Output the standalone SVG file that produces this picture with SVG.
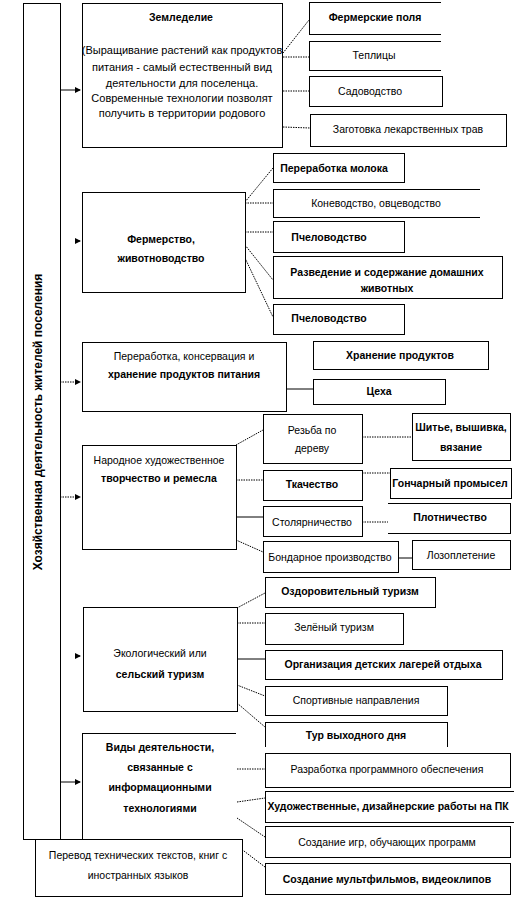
<svg xmlns="http://www.w3.org/2000/svg" width="514" height="899" viewBox="0 0 514 899">
<defs>
<marker id="arr" markerWidth="6" markerHeight="6" refX="5" refY="3" orient="auto" markerUnits="userSpaceOnUse"><path d="M0,0 L6,3 L0,6 z" fill="#000"/></marker>
<style>
.b{fill:#fff;stroke:#000;stroke-width:1;shape-rendering:crispEdges}
.o{fill:none;stroke:#000;stroke-width:1;shape-rendering:crispEdges}
text{font-family:"Liberation Sans",Arial,sans-serif;font-size:10.5px;fill:#000;text-anchor:middle;dominant-baseline:central}
.bd{font-weight:bold}
.c{stroke:#000;stroke-width:1;fill:none}
.d{stroke-dasharray:1.5 1}
.z{font-size:11px}
</style>
</defs>
<rect width="514" height="899" fill="#fff"/>

<g id="connectors">
<path class="c" d="M60,90 H80" marker-end="url(#arr)"/>
<path class="c" d="M76,241 H80" marker-end="url(#arr)"/>
<path class="c d" d="M60,382 H80" marker-end="url(#arr)"/>
<path class="c d" d="M60,497 H80" marker-end="url(#arr)"/>
<path class="c" d="M76,656 H80" marker-end="url(#arr)"/>
<path class="c" d="M60,782 H80" marker-end="url(#arr)"/>

<path class="c d" d="M283,53 L309,20"/>
<path class="c d" d="M283,57 H309"/>
<path class="c d" d="M283,91 H309"/>
<path class="c d" d="M283,127 L310,128"/>

<path class="c d" d="M245,202 L273,168"/>
<path class="c d" d="M245,203 H273"/>
<path class="c d" d="M245,232 H273"/>
<path class="c d" d="M245,245 L273,280"/>
<path class="c d" d="M245,258 L273,317"/>

<path class="c" d="M286,389 H313"/>

<path class="c d" d="M236,445 L263,430"/>
<path class="c d" d="M236,480 H263"/>
<path class="c" d="M236,517 H263"/>
<path class="c d" d="M236,540 L263,552"/>
<path class="c d" d="M362,437 H412"/>
<path class="c d" d="M362,473 H390"/>
<path class="c d" d="M362,522 H388"/>
<path class="c" d="M398,558 H412"/>

<path class="c d" d="M237,608 L265,593"/>
<path class="c d" d="M237,623 H265"/>
<path class="c" d="M237,659 H265"/>
<path class="c d" d="M237,685 L265,696"/>
<path class="c d" d="M237,703 L265,727"/>

<path class="c d" d="M237,769 H265"/>
<path class="c d" d="M237,802 L265,798"/>
<path class="c d" d="M237,818 L265,837"/>
<path class="c d" d="M240,848 L265,867"/>
<path class="c" d="M155,839 V851"/>
</g>

<g id="main">
<rect class="b" x="23" y="3" width="37" height="836"/>
<text class="bd" style="font-size:12px" transform="translate(38,422) rotate(-90)">Хозяйственная  деятельность жителей поселения</text>
</g>

<g id="zemledelie">
<rect class="b" x="82" y="3" width="200" height="144"/>
<text class="bd" x="181" y="17">Земледелие</text>
<text class="z" x="182" y="50">(Выращивание растений как продуктов</text>
<text class="z" x="182" y="67">питания - самый естественный вид</text>
<text class="z" x="182" y="83">деятельности для поселенца.</text>
<text class="z" x="182" y="98">Современные технологии позволят</text>
<text class="z" x="182" y="113">получить в территории родового</text>
</g>
<g id="fermerskie-polya">
<path class="o" d="M441,2 H309 V34 H441"/>
<text class="bd" x="375" y="17">Фермерские поля</text>
</g>
<g id="teplitsy">
<path class="o" d="M441,41 H309 V70 H441"/>
<text x="374" y="55">Теплицы</text>
</g>
<g id="sadovodstvo">
<rect class="b" x="309" y="76" width="133" height="30"/>
<text x="370" y="91">Садоводство</text>
</g>
<g id="zagotovka">
<rect class="b" x="310" y="114" width="196" height="32"/>
<text x="408" y="129">Заготовка лекарственных трав</text>
</g>

<g id="fermerstvo">
<rect class="b" x="82" y="192" width="163" height="100"/>
<text class="bd" x="161" y="239">Фермерство,</text>
<text class="bd" x="161" y="258">животноводство</text>
</g>
<g id="pererabotka-moloka">
<rect class="b" x="273" y="153" width="131" height="29"/>
<text class="bd" x="334" y="168">Переработка молока</text>
</g>
<g id="konevodstvo">
<path class="o" d="M480,189 H273 V217 H480"/>
<text x="376" y="203">Коневодство, овцеводство</text>
</g>
<g id="pchelovodstvo-1">
<rect class="b" x="273" y="221" width="131" height="31"/>
<text class="bd" x="329" y="237">Пчеловодство</text>
</g>
<g id="razvedenie">
<rect class="b" x="273" y="256" width="229" height="42"/>
<text class="bd" x="387" y="272">Разведение и содержание домашних</text>
<text class="bd" x="387" y="288">животных</text>
</g>
<g id="pchelovodstvo-2">
<rect class="b" x="273" y="304" width="131" height="30"/>
<text class="bd" x="329" y="318">Пчеловодство</text>
</g>

<g id="pererabotka">
<rect class="b" x="82" y="342" width="204" height="69"/>
<text x="184" y="356">Переработка, консервация и</text>
<text class="bd" x="184" y="374">хранение продуктов питания</text>
</g>
<g id="khranenie">
<rect class="b" x="313" y="341" width="175" height="28"/>
<text class="bd" x="400" y="355">Хранение продуктов</text>
</g>
<g id="tsekha">
<rect class="b" x="313" y="379" width="132" height="25"/>
<text class="bd" x="379" y="391">Цеха</text>
</g>

<g id="narodnoe">
<rect class="b" x="82" y="445" width="154" height="104"/>
<text x="159" y="460">Народное художественное</text>
<text class="bd" x="159" y="478">творчество и ремесла</text>
</g>
<g id="rezba">
<rect class="b" x="263" y="414" width="99" height="49"/>
<text x="312" y="430">Резьба по</text>
<text x="312" y="448">дереву</text>
</g>
<g id="shitye">
<rect class="b" x="412" y="413" width="98" height="47"/>
<text class="bd" x="461" y="427">Шитье, вышивка,</text>
<text class="bd" x="461" y="447">вязание</text>
</g>
<g id="tkachestvo">
<rect class="b" x="263" y="470" width="99" height="30"/>
<text class="bd" x="312" y="484">Ткачество</text>
</g>
<g id="goncharny">
<rect class="b" x="390" y="468" width="121" height="30"/>
<text class="bd" x="450" y="483">Гончарный промысел</text>
</g>
<g id="stolyarnichestvo">
<rect class="b" x="263" y="506" width="99" height="30"/>
<text x="312" y="522">Столярничество</text>
</g>
<g id="plotnichestvo">
<path class="o" d="M388,503 H510 V533 H388"/>
<text class="bd" x="450" y="517">Плотничество</text>
</g>
<g id="bondarnoe">
<rect class="b" x="263" y="541" width="135" height="31"/>
<text x="330" y="557">Бондарное производство</text>
</g>
<g id="lozopletenie">
<rect class="b" x="412" y="540" width="98" height="29"/>
<text x="461" y="555">Лозоплетение</text>
</g>

<g id="ekologicheskiy">
<rect class="b" x="83" y="607" width="154" height="104"/>
<text x="160" y="653">Экологический или</text>
<text class="bd" x="160" y="674">сельский туризм</text>
</g>
<g id="ozdorovitelny">
<rect class="b" x="265" y="577" width="170" height="30"/>
<text class="bd" x="350" y="591">Оздоровительный туризм</text>
</g>
<g id="zelyony">
<rect class="b" x="265" y="613" width="138" height="31"/>
<text x="334" y="627">Зелёный туризм</text>
</g>
<g id="organizatsiya">
<rect class="b" x="265" y="650" width="237" height="29"/>
<text class="bd" x="383" y="664">Организация  детских лагерей отдыха</text>
</g>
<g id="sportivnye">
<rect class="b" x="265" y="686" width="182" height="29"/>
<text x="356" y="700">Спортивные направления</text>
</g>
<g id="tur">
<path class="o" d="M265,747 V722 H447 V747"/>
<text class="bd" x="356" y="735">Тур выходного дня</text>
</g>

<g id="vidy">
<path class="o" d="M236,733 H82 V839"/>
<text class="bd" x="160" y="747">Виды деятельности,</text>
<text class="bd" x="160" y="767">связанные с</text>
<text class="bd" x="160" y="787">информационными</text>
<text class="bd" x="160" y="808">технологиями</text>
</g>
<g id="razrabotka">
<rect class="b" x="265" y="753" width="245" height="34"/>
<text x="387" y="769">Разработка программного обеспечения</text>
</g>
<g id="khudozhestvennye">
<path class="o" d="M514,791 H265 V822 H514"/>
<text class="bd" x="388" y="806">Художественные, дизайнерские работы на ПК</text>
</g>
<g id="sozdanie-igr">
<rect class="b" x="265" y="826" width="245" height="31"/>
<text x="387" y="842">Создание игр, обучающих программ</text>
</g>
<g id="sozdanie-multfilmov">
<rect class="b" x="265" y="863" width="245" height="31"/>
<text class="bd" x="387" y="879">Создание мультфильмов, видеоклипов</text>
</g>

<g id="perevod">
<rect class="b" x="35" y="839" width="207" height="57"/>
<text x="138" y="855">Перевод технических текстов, книг с</text>
<text x="138" y="875">иностранных языков</text>
</g>
</svg>
